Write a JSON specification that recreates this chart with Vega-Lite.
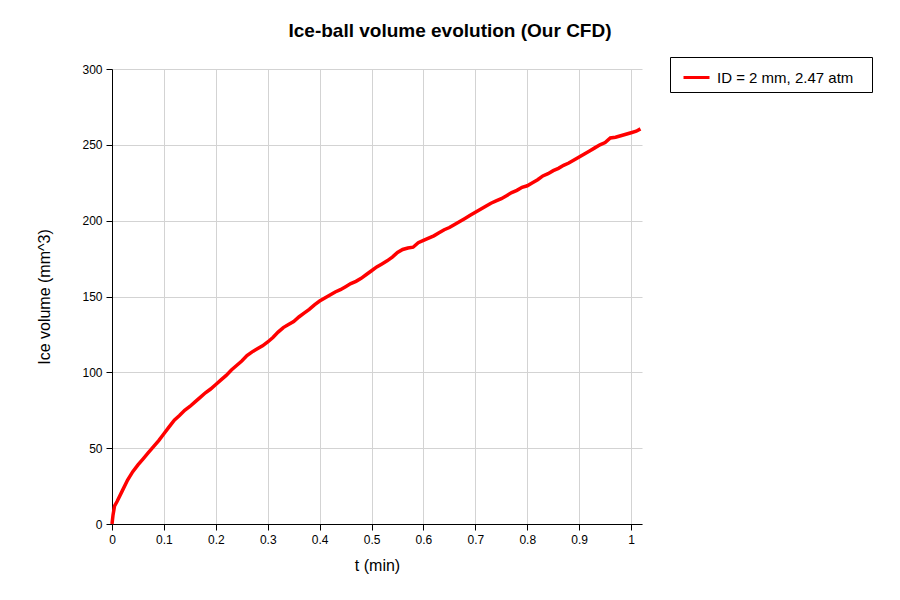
{
  "$schema": "https://vega.github.io/schema/vega-lite/v6.json",
  "width": 530,
  "height": 455,
  "autosize": {"type": "none"},
  "padding": {"left": 112, "top": 69, "right": 258, "bottom": 76},
  "background": "white",
  "title": {
    "text": "Ice-ball volume evolution (Our CFD)",
    "font": "Liberation Sans",
    "fontSize": 19,
    "fontWeight": "bold",
    "color": "black",
    "anchor": "middle",
    "frame": "group",
    "dx": 73,
    "offset": 16
  },
  "config": {
    "view": {"stroke": null},
    "font": "Liberation Sans"
  },
  "data": {
    "values": [
      {"t": 0, "v": 0, "s": "ID = 2 mm, 2.47 atm"},
      {"t": 0.002, "v": 6, "s": "ID = 2 mm, 2.47 atm"},
      {"t": 0.005, "v": 12, "s": "ID = 2 mm, 2.47 atm"},
      {"t": 0.01, "v": 15, "s": "ID = 2 mm, 2.47 atm"},
      {"t": 0.02, "v": 22, "s": "ID = 2 mm, 2.47 atm"},
      {"t": 0.03, "v": 29, "s": "ID = 2 mm, 2.47 atm"},
      {"t": 0.04, "v": 34.5, "s": "ID = 2 mm, 2.47 atm"},
      {"t": 0.05, "v": 39, "s": "ID = 2 mm, 2.47 atm"},
      {"t": 0.06, "v": 43, "s": "ID = 2 mm, 2.47 atm"},
      {"t": 0.07, "v": 47, "s": "ID = 2 mm, 2.47 atm"},
      {"t": 0.08, "v": 51, "s": "ID = 2 mm, 2.47 atm"},
      {"t": 0.09, "v": 55, "s": "ID = 2 mm, 2.47 atm"},
      {"t": 0.10, "v": 59.5, "s": "ID = 2 mm, 2.47 atm"},
      {"t": 0.11, "v": 64, "s": "ID = 2 mm, 2.47 atm"},
      {"t": 0.12, "v": 68.5, "s": "ID = 2 mm, 2.47 atm"},
      {"t": 0.13, "v": 71.5, "s": "ID = 2 mm, 2.47 atm"},
      {"t": 0.14, "v": 75, "s": "ID = 2 mm, 2.47 atm"},
      {"t": 0.15, "v": 77.5, "s": "ID = 2 mm, 2.47 atm"},
      {"t": 0.16, "v": 80.5, "s": "ID = 2 mm, 2.47 atm"},
      {"t": 0.17, "v": 83.5, "s": "ID = 2 mm, 2.47 atm"},
      {"t": 0.18, "v": 86.5, "s": "ID = 2 mm, 2.47 atm"},
      {"t": 0.19, "v": 89, "s": "ID = 2 mm, 2.47 atm"},
      {"t": 0.20, "v": 92, "s": "ID = 2 mm, 2.47 atm"},
      {"t": 0.21, "v": 95, "s": "ID = 2 mm, 2.47 atm"},
      {"t": 0.22, "v": 98, "s": "ID = 2 mm, 2.47 atm"},
      {"t": 0.23, "v": 101.5, "s": "ID = 2 mm, 2.47 atm"},
      {"t": 0.24, "v": 104.5, "s": "ID = 2 mm, 2.47 atm"},
      {"t": 0.25, "v": 107.5, "s": "ID = 2 mm, 2.47 atm"},
      {"t": 0.26, "v": 111, "s": "ID = 2 mm, 2.47 atm"},
      {"t": 0.27, "v": 113.5, "s": "ID = 2 mm, 2.47 atm"},
      {"t": 0.28, "v": 115.5, "s": "ID = 2 mm, 2.47 atm"},
      {"t": 0.29, "v": 117.5, "s": "ID = 2 mm, 2.47 atm"},
      {"t": 0.30, "v": 120, "s": "ID = 2 mm, 2.47 atm"},
      {"t": 0.31, "v": 123, "s": "ID = 2 mm, 2.47 atm"},
      {"t": 0.32, "v": 126.5, "s": "ID = 2 mm, 2.47 atm"},
      {"t": 0.33, "v": 129.5, "s": "ID = 2 mm, 2.47 atm"},
      {"t": 0.34, "v": 131.5, "s": "ID = 2 mm, 2.47 atm"},
      {"t": 0.35, "v": 133.5, "s": "ID = 2 mm, 2.47 atm"},
      {"t": 0.36, "v": 136.5, "s": "ID = 2 mm, 2.47 atm"},
      {"t": 0.37, "v": 139, "s": "ID = 2 mm, 2.47 atm"},
      {"t": 0.38, "v": 141.5, "s": "ID = 2 mm, 2.47 atm"},
      {"t": 0.39, "v": 144.5, "s": "ID = 2 mm, 2.47 atm"},
      {"t": 0.40, "v": 147, "s": "ID = 2 mm, 2.47 atm"},
      {"t": 0.41, "v": 149, "s": "ID = 2 mm, 2.47 atm"},
      {"t": 0.42, "v": 151, "s": "ID = 2 mm, 2.47 atm"},
      {"t": 0.43, "v": 153, "s": "ID = 2 mm, 2.47 atm"},
      {"t": 0.44, "v": 154.5, "s": "ID = 2 mm, 2.47 atm"},
      {"t": 0.45, "v": 156.5, "s": "ID = 2 mm, 2.47 atm"},
      {"t": 0.46, "v": 158.5, "s": "ID = 2 mm, 2.47 atm"},
      {"t": 0.47, "v": 160, "s": "ID = 2 mm, 2.47 atm"},
      {"t": 0.48, "v": 162, "s": "ID = 2 mm, 2.47 atm"},
      {"t": 0.49, "v": 164.5, "s": "ID = 2 mm, 2.47 atm"},
      {"t": 0.50, "v": 167, "s": "ID = 2 mm, 2.47 atm"},
      {"t": 0.51, "v": 169.5, "s": "ID = 2 mm, 2.47 atm"},
      {"t": 0.52, "v": 171.5, "s": "ID = 2 mm, 2.47 atm"},
      {"t": 0.53, "v": 173.5, "s": "ID = 2 mm, 2.47 atm"},
      {"t": 0.54, "v": 176, "s": "ID = 2 mm, 2.47 atm"},
      {"t": 0.55, "v": 179, "s": "ID = 2 mm, 2.47 atm"},
      {"t": 0.56, "v": 181, "s": "ID = 2 mm, 2.47 atm"},
      {"t": 0.57, "v": 182, "s": "ID = 2 mm, 2.47 atm"},
      {"t": 0.58, "v": 182.5, "s": "ID = 2 mm, 2.47 atm"},
      {"t": 0.59, "v": 185.5, "s": "ID = 2 mm, 2.47 atm"},
      {"t": 0.60, "v": 187, "s": "ID = 2 mm, 2.47 atm"},
      {"t": 0.61, "v": 188.5, "s": "ID = 2 mm, 2.47 atm"},
      {"t": 0.62, "v": 190, "s": "ID = 2 mm, 2.47 atm"},
      {"t": 0.63, "v": 192, "s": "ID = 2 mm, 2.47 atm"},
      {"t": 0.64, "v": 194, "s": "ID = 2 mm, 2.47 atm"},
      {"t": 0.65, "v": 195.5, "s": "ID = 2 mm, 2.47 atm"},
      {"t": 0.66, "v": 197.5, "s": "ID = 2 mm, 2.47 atm"},
      {"t": 0.67, "v": 199.5, "s": "ID = 2 mm, 2.47 atm"},
      {"t": 0.68, "v": 201.5, "s": "ID = 2 mm, 2.47 atm"},
      {"t": 0.69, "v": 203.5, "s": "ID = 2 mm, 2.47 atm"},
      {"t": 0.70, "v": 205.5, "s": "ID = 2 mm, 2.47 atm"},
      {"t": 0.71, "v": 207.5, "s": "ID = 2 mm, 2.47 atm"},
      {"t": 0.72, "v": 209.5, "s": "ID = 2 mm, 2.47 atm"},
      {"t": 0.73, "v": 211.5, "s": "ID = 2 mm, 2.47 atm"},
      {"t": 0.74, "v": 213, "s": "ID = 2 mm, 2.47 atm"},
      {"t": 0.75, "v": 214.5, "s": "ID = 2 mm, 2.47 atm"},
      {"t": 0.76, "v": 216.5, "s": "ID = 2 mm, 2.47 atm"},
      {"t": 0.77, "v": 218.5, "s": "ID = 2 mm, 2.47 atm"},
      {"t": 0.78, "v": 220, "s": "ID = 2 mm, 2.47 atm"},
      {"t": 0.79, "v": 222, "s": "ID = 2 mm, 2.47 atm"},
      {"t": 0.80, "v": 223, "s": "ID = 2 mm, 2.47 atm"},
      {"t": 0.81, "v": 225, "s": "ID = 2 mm, 2.47 atm"},
      {"t": 0.82, "v": 227, "s": "ID = 2 mm, 2.47 atm"},
      {"t": 0.83, "v": 229.5, "s": "ID = 2 mm, 2.47 atm"},
      {"t": 0.84, "v": 231, "s": "ID = 2 mm, 2.47 atm"},
      {"t": 0.85, "v": 233, "s": "ID = 2 mm, 2.47 atm"},
      {"t": 0.86, "v": 234.5, "s": "ID = 2 mm, 2.47 atm"},
      {"t": 0.87, "v": 236.5, "s": "ID = 2 mm, 2.47 atm"},
      {"t": 0.88, "v": 238, "s": "ID = 2 mm, 2.47 atm"},
      {"t": 0.89, "v": 240, "s": "ID = 2 mm, 2.47 atm"},
      {"t": 0.90, "v": 242, "s": "ID = 2 mm, 2.47 atm"},
      {"t": 0.91, "v": 244, "s": "ID = 2 mm, 2.47 atm"},
      {"t": 0.92, "v": 246, "s": "ID = 2 mm, 2.47 atm"},
      {"t": 0.93, "v": 248, "s": "ID = 2 mm, 2.47 atm"},
      {"t": 0.94, "v": 250, "s": "ID = 2 mm, 2.47 atm"},
      {"t": 0.95, "v": 251.5, "s": "ID = 2 mm, 2.47 atm"},
      {"t": 0.96, "v": 254.5, "s": "ID = 2 mm, 2.47 atm"},
      {"t": 0.97, "v": 255, "s": "ID = 2 mm, 2.47 atm"},
      {"t": 0.98, "v": 256, "s": "ID = 2 mm, 2.47 atm"},
      {"t": 0.99, "v": 257, "s": "ID = 2 mm, 2.47 atm"},
      {"t": 1.00, "v": 258, "s": "ID = 2 mm, 2.47 atm"},
      {"t": 1.01, "v": 259, "s": "ID = 2 mm, 2.47 atm"},
      {"t": 1.018, "v": 260.5, "s": "ID = 2 mm, 2.47 atm"}
    ]
  },
  "mark": {"type": "line", "strokeWidth": 3.5, "clip": false},
  "encoding": {
    "x": {
      "field": "t",
      "type": "quantitative",
      "scale": {"domain": [0, 1.021], "nice": false, "zero": false},
      "axis": {
        "title": "t (min)",
        "values": [0, 0.1, 0.2, 0.3, 0.4, 0.5, 0.6, 0.7, 0.8, 0.9, 1],
        "format": ".1~f",
        "titleFont": "Liberation Sans",
        "titleFontSize": 16,
        "titleFontWeight": "normal",
        "titleColor": "black",
        "titlePadding": 12,
        "labelFont": "Liberation Sans",
        "labelFontSize": 12,
        "labelColor": "black",
        "labelPadding": 4,
        "tickColor": "black",
        "tickSize": 6,
        "domainColor": "black",
        "gridColor": "#d3d3d3",
        "gridWidth": 1,
        "labelFlush": false
      }
    },
    "y": {
      "field": "v",
      "type": "quantitative",
      "scale": {"domain": [0, 300], "nice": false},
      "axis": {
        "title": "Ice volume (mm^3)",
        "values": [0, 50, 100, 150, 200, 250, 300],
        "titleFont": "Liberation Sans",
        "titleFontSize": 16,
        "titleFontWeight": "normal",
        "titleColor": "black",
        "titlePadding": 29,
        "labelFont": "Liberation Sans",
        "labelFontSize": 12,
        "labelColor": "black",
        "labelPadding": 4,
        "tickColor": "black",
        "tickSize": 6,
        "domainColor": "black",
        "gridColor": "#d3d3d3",
        "gridWidth": 1,
        "labelFlush": false
      }
    },
    "color": {
      "field": "s",
      "type": "nominal",
      "scale": {"domain": ["ID = 2 mm, 2.47 atm"], "range": ["#ff0000"]},
      "legend": {
        "title": "\u00a0",
        "titleOrient": "right",
        "titlePadding": 13,
        "titleFontSize": 8,
        "orient": "none",
        "legendX": 558,
        "legendY": -12,
        "strokeColor": "black",
        "fillColor": "white",
        "padding": 6,
        "symbolType": "stroke",
        "symbolSize": 676,
        "symbolStrokeWidth": 3,
        "labelFont": "Liberation Sans",
        "labelFontSize": 15,
        "labelColor": "black",
        "labelOffset": 6,
        "labelLimit": 300,
        "symbolOffset": 6
      }
    }
  }
}
